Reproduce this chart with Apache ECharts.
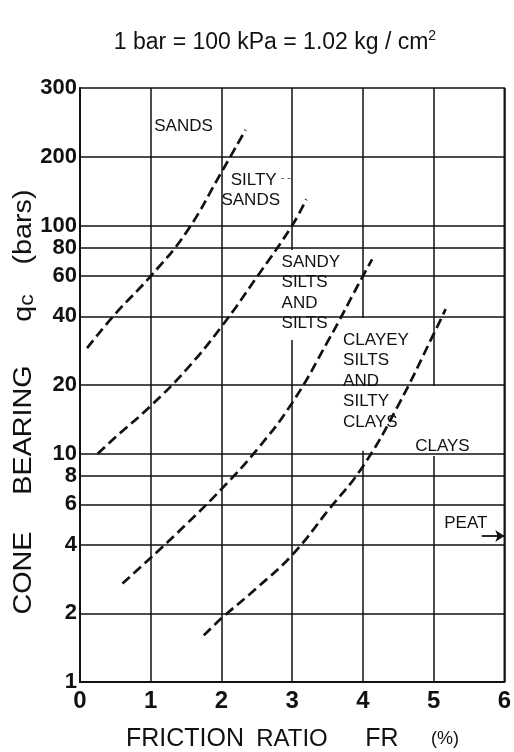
<!DOCTYPE html>
<html><head><meta charset="utf-8">
<script src="https://cdn.jsdelivr.net/npm/echarts@6/dist/echarts.min.js"></script>
<style>html,body{margin:0;padding:0;background:#fff}#c{width:514px;height:752px}</style>
</head><body><div id="c"></div>
<script>
// ---- axis ticks ----
const xTicks = [0, 1, 2, 3, 4, 5, 6];
const yTickValues = [1, 2, 4, 6, 8, 10, 20, 40, 60, 80, 100, 200];
const yTickLabels = ['1', '2', '4', '6', '8', '10', '20', '40', '60', '80', '100', '200'];
const yTopValue = 400;      // top edge of the printed frame
const yTopLabel = '300';    // label printed at the top edge in the source
const hGridValues = [2, 4, 6, 8, 10, 20, 40, 60, 80, 100, 200];

// ---- zone boundaries (FR %, qc bars) ----
const sandsVsSiltySands = [[0.10, 29], [0.50, 41], [1.00, 60], [1.50, 93], [2.00, 171], [2.34, 262]];
const siltySandsVsSandySilts = [[0.25, 10], [0.50, 11.8], [1.00, 16.2], [1.50, 23.3], [2.00, 36], [2.50, 59.4], [3.00, 100], [3.20, 130]];
const sandySiltsVsClayeySilts = [[0.60, 2.7], [1.00, 3.5], [1.50, 4.9], [2.00, 7.0], [2.50, 10.4], [3.00, 16.7], [3.50, 30.9], [4.00, 60], [4.13, 71]];
const clayeySiltsVsClays = [[1.75, 1.6], [2.00, 1.9], [2.50, 2.58], [3.00, 3.6], [3.50, 5.6], [4.00, 8.8], [4.50, 16.3], [5.00, 33.4], [5.17, 43]];

// ---- zone labels ----
const zoneNames = ['SANDS', 'SILTY', 'SANDS', 'SANDY\nSILTS\nAND\nSILTS', 'CLAYEY\nSILTS\nAND\nSILTY\nCLAYS', 'CLAYS', 'PEAT'];

// layout (data coordinates) for annotations
const zoneAnchors = [[1.05, 272], [2.13, 158], [2.00, 129], [2.85, 50.8], [3.72, 20.8], [4.74, 10.8], [5.15, 4.97]];
const whiteOuts = [
  [2.64, 31.5, 3.79, 78],
  [3.62, 10.3, 4.44, 39.3],
  [4.63, 9.77, 5.65, 11.7],
  [4.84, 9.77, 5.13, 19.8]
];
const peatArrow = [[5.68, 4.36], [6.0, 4.36]];

const F = '"Liberation Sans", Arial, Helvetica, sans-serif';
const ink = '#111111';
const chart = echarts.init(document.getElementById('c'));
const dash = { color: ink, width: 2.7, type: [10, 5] };

function curve(name, data) {
  return { name, type: 'line', data, smooth: 0.45, showSymbol: false, symbol: 'none', z: 5,
    silent: true, lineStyle: dash, emphasis: { disabled: true } };
}
function yLabel(v) {
  if (Math.abs(v - yTopValue) / yTopValue < 1e-6) return yTopLabel;
  const i = yTickValues.findIndex(t => Math.abs(t - v) / t < 1e-6);
  return i >= 0 ? yTickLabels[i] : '';
}

chart.setOption({
  animation: false,
  grid: { left: 80, right: 6, top: 88, bottom: 70, show: true, borderColor: ink, borderWidth: 1.6 },
  xAxis: {
    type: 'value', min: xTicks[0], max: xTicks[xTicks.length - 1], interval: 1,
    axisLine: { show: true, lineStyle: { color: ink, width: 2 } },
    axisTick: { show: false },
    splitLine: { show: true, lineStyle: { color: ink, width: 1.5 } },
    axisLabel: { color: ink, fontSize: 24, fontWeight: 'bold', fontFamily: F, margin: 7 }
  },
  yAxis: {
    type: 'log', logBase: 10, min: 1, max: yTopValue,
    axisLine: { show: true, lineStyle: { color: ink, width: 2 } },
    axisTick: { show: false },
    splitLine: { show: false }, minorSplitLine: { show: false },
    axisLabel: { customValues: yTickValues.concat([yTopValue]), formatter: yLabel,
      color: ink, fontSize: 22, fontWeight: 'bold', fontFamily: F, margin: 3 }
  },
  series: [
    { type: 'line', data: [], z: 1, silent: true,
      markLine: { silent: true, animation: false, symbol: ['none', 'none'], label: { show: false },
        lineStyle: { color: ink, width: 1.5, type: 'solid' },
        data: hGridValues.map(v => ({ yAxis: v })) } },
    { type: 'line', data: [], z: 3, silent: true,
      markArea: { silent: true, animation: false, itemStyle: { color: '#ffffff' },
        data: whiteOuts.map(m => [{ coord: [m[0], m[3]] }, { coord: [m[2], m[1]] }]) } },
    curve('sands', sandsVsSiltySands),
    curve('siltySands', siltySandsVsSandySilts),
    curve('sandySilts', sandySiltsVsClayeySilts),
    curve('clayeySilts', clayeySiltsVsClays),
    { type: 'line', data: [], z: 6, silent: true,
      markLine: { silent: true, animation: false, symbol: ['none', 'arrow'], symbolSize: 9, label: { show: false },
        lineStyle: { color: ink, width: 1.8, type: 'solid' },
        data: [[{ coord: peatArrow[0] }, { coord: peatArrow[1] }]] } }
  ]
});

const P = (pt) => chart.convertToPixel({ gridIndex: 0 }, pt);
const g = [];
zoneNames.forEach((t, i) => {
  const p = P(zoneAnchors[i]);
  g.push({ type: 'text', x: p[0], y: p[1], z: 20,
    style: { text: t, fill: ink, font: '17px ' + F, align: 'left', verticalAlign: 'middle', lineHeight: 20.5 } });
});
// trailing dashes after SILTY
const pd = P([2.13, 158]);
g.push({ type: 'text', x: pd[0] + 50, y: pd[1] - 2, z: 20,
  style: { text: '- -', fill: '#444', font: '11px ' + F, align: 'left', verticalAlign: 'middle' } });

// title
g.push({ type: 'text', x: 275, y: 43, z: 20,
  style: { text: '1 bar = 100 kPa = 1.02 kg / cm{s|2}', fill: ink, font: '23px ' + F,
    align: 'center', verticalAlign: 'middle',
    rich: { s: { fontSize: 14, fontFamily: F, fill: ink, padding: [0, 0, 14, 0] } } } });

// y axis name
[['CONE', 573], ['BEARING', 430], ['(bars)', 227]].forEach(w => {
  g.push({ type: 'text', x: 24, y: w[1], rotation: Math.PI / 2, scaleX: 1.15, z: 20,
    style: { text: w[0], fill: ink, font: '25px ' + F, align: 'center', verticalAlign: 'middle' } });
});
g.push({ type: 'text', x: 24, y: 308, rotation: Math.PI / 2, scaleX: 1.15, z: 20,
  style: { text: '{q|q}{c|c}', fill: ink, font: '25px ' + F, align: 'center', verticalAlign: 'middle',
    rich: { q: { fontSize: 25, fontFamily: F, fill: ink }, c: { fontSize: 20, fontFamily: F, fill: ink, padding: [6, 0, 0, 0] } } } });

// x axis name
[['FRICTION', 185, 25], ['RATIO', 292, 24], ['FR', 382, 25], ['(%)', 445, 18]].forEach(w => {
  g.push({ type: 'text', x: w[1], y: 739, z: 20,
    style: { text: w[0], fill: ink, font: w[2] + 'px ' + F, align: 'center', verticalAlign: 'middle' } });
});
chart.setOption({ graphic: g });
</script>
</body></html>
